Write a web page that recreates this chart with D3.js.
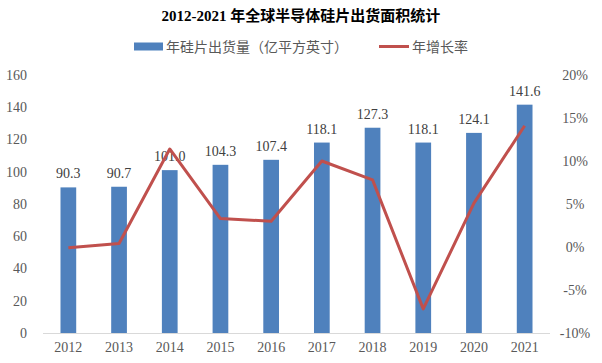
<!DOCTYPE html>
<html>
<head>
<meta charset="utf-8">
<script src="https://cdn.jsdelivr.net/npm/d3@7"></script>
<style>
  body { margin: 0; background: #fff; }
  svg text { font-family: "Liberation Serif", "Noto Sans CJK SC", serif; }
</style>
</head>
<body>
<svg id="chart" width="602" height="363"></svg>
<script>
// data
let years = ["2012", "2013", "2014", "2015", "2016", "2017", "2018", "2019", "2020", "2021"];
let shipments = [90.3, 90.7, 101.0, 104.3, 107.4, 118.1, 127.3, 118.1, 124.1, 141.6];
let growth = [-0.1, 0.4, 11.4, 3.3, 3.0, 10.0, 7.8, -7.2, 5.1, 14.1];
let leftTicks = [0, 20, 40, 60, 80, 100, 120, 140, 160];
let rightTicks = [-10, -5, 0, 5, 10, 15, 20];

let svg = d3.select("#chart");
let plotLeft = 43, plotRight = 550, plotTop = 75, plotBottom = 333;

let x = d3.scaleBand().domain(years).range([plotLeft, plotRight]).paddingInner(0.69).paddingOuter(0.345);
let y = d3.scaleLinear().domain([0, 160]).range([plotBottom, plotTop]);
let y2 = d3.scaleLinear().domain([-10, 20]).range([plotBottom, plotTop]);

// title
let title = svg.append("text")
    .attr("x", 301).attr("y", 21)
    .attr("text-anchor", "middle")
    .style("font-size", "15px").style("font-weight", "bold").attr("fill", "#000");
title.append("tspan").style("font-family", "Liberation Serif").text("2012-2021 ");
title.append("tspan").style("font-family", "Noto Sans CJK SC").text("年全球半导体硅片出货面积统计");

// legend
svg.append("rect").attr("x", 134).attr("y", 42.5).attr("width", 29).attr("height", 8).attr("fill", "#4F81BD");
svg.append("text").attr("x", 166).attr("y", 51.5)
    .style("font-family", "Noto Sans CJK SC").style("font-size", "14px").attr("fill", "#595959")
    .text("年硅片出货量（亿平方英寸）");
svg.append("line").attr("x1", 379).attr("x2", 409).attr("y1", 46.5).attr("y2", 46.5)
    .attr("stroke", "#C0504D").attr("stroke-width", 3);
svg.append("text").attr("x", 412).attr("y", 51.5)
    .style("font-family", "Noto Sans CJK SC").style("font-size", "14px").attr("fill", "#595959")
    .text("年增长率");

// left axis
let yAxis = d3.axisLeft(y).tickValues(leftTicks).tickSize(0).tickPadding(0);
svg.append("g").attr("class", "y-axis")
    .attr("transform", "translate(27,0)")
    .call(yAxis)
    .call(g => g.select(".domain").remove())
    .selectAll("text").style("font-size", "14px").attr("fill", "#595959")
    .style("font-family", "Liberation Serif");

// right axis
let y2Axis = d3.axisRight(y2).tickValues(rightTicks).tickSize(0).tickPadding(0)
    .tickFormat(d => d + "%");
svg.append("g").attr("class", "y2-axis")
    .attr("transform", "translate(575,0)")
    .call(y2Axis)
    .call(g => g.select(".domain").remove())
    .selectAll("text").style("font-size", "14px").attr("fill", "#595959")
    .attr("text-anchor", "middle")
    .style("font-family", "Liberation Serif");

// bars
svg.selectAll(".bar")
    .data(shipments)
  .enter().append("rect")
    .attr("class", "bar")
    .attr("x", (d, i) => x(years[i]))
    .attr("y", d => y(d))
    .attr("width", x.bandwidth())
    .attr("height", d => plotBottom - y(d))
    .attr("fill", "#4F81BD");

// baseline
svg.append("line").attr("x1", plotLeft).attr("x2", plotRight)
    .attr("y1", plotBottom + 0.5).attr("y2", plotBottom + 0.5)
    .attr("stroke", "#D9D9D9").attr("stroke-width", 1);

// x axis labels
let xAxis = d3.axisBottom(x).tickSize(0).tickPadding(0);
svg.append("g").attr("class", "x-axis")
    .attr("transform", "translate(0," + (plotBottom + 9) + ")")
    .call(xAxis)
    .call(g => g.select(".domain").remove())
    .selectAll("text").style("font-size", "14px").attr("fill", "#595959")
    .style("font-family", "Liberation Serif");

// bar value labels
svg.selectAll(".val")
    .data(shipments)
  .enter().append("text")
    .attr("class", "val")
    .attr("x", (d, i) => x(years[i]) + x.bandwidth() / 2)
    .attr("y", d => y(d) - 9)
    .attr("text-anchor", "middle")
    .style("font-size", "14px").attr("fill", "#404040")
    .style("font-family", "Liberation Serif")
    .text(d => d.toFixed(1));

// growth line
let line = d3.line()
    .x((d, i) => x(years[i]) + x.bandwidth() / 2)
    .y(d => y2(d));
svg.append("path")
    .datum(growth)
    .attr("d", line)
    .attr("fill", "none")
    .attr("stroke", "#C0504D")
    .attr("stroke-width", 3)
    .attr("stroke-linejoin", "round");
</script>
</body>
</html>
